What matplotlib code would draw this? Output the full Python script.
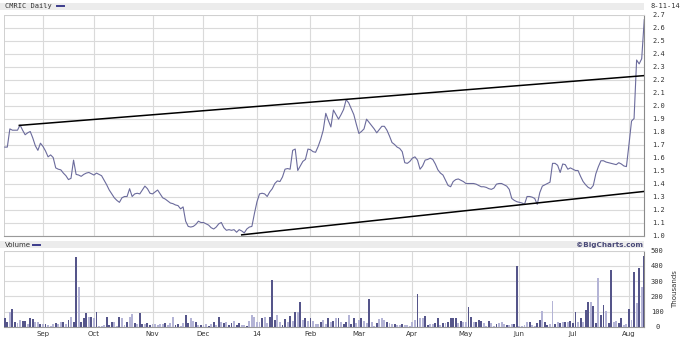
import numpy as np
import pandas as pd
import matplotlib
matplotlib.use("Agg")
import matplotlib.pyplot as plt
from matplotlib.patches import Rectangle

W, H = 680, 337

# ── data ──────────────────────────────────────────────────────────────────────
START, END = "2013-08-12", "2014-08-11"
HOLIDAYS = ["2013-09-02", "2013-11-28", "2013-12-25", "2014-01-01", "2014-01-20",
            "2014-02-17", "2014-04-18", "2014-05-26", "2014-07-04"]
MONTH_LABELS = ["Sep", "Oct", "Nov", "Dec", "14", "Feb", "Mar", "Apr",
                "May", "Jun", "Jul", "Aug"]

PRICE = [
    1.68, 1.68, 1.82, 1.81, 1.81, 1.81, 1.85, 1.81, 1.775, 1.79,
    1.80, 1.75, 1.69, 1.655, 1.71, 1.685, 1.65, 1.605, 1.62, 1.60,
    1.52, 1.51, 1.505, 1.48, 1.46, 1.43, 1.44, 1.58, 1.47, 1.465,
    1.455, 1.47, 1.48, 1.485, 1.475, 1.465, 1.48, 1.47, 1.46, 1.425,
    1.39, 1.35, 1.32, 1.29, 1.27, 1.255, 1.29, 1.30, 1.30, 1.36,
    1.30, 1.32, 1.325, 1.32, 1.35, 1.38, 1.36, 1.325, 1.32, 1.335,
    1.35, 1.32, 1.29, 1.28, 1.265, 1.25, 1.245, 1.235, 1.23, 1.205,
    1.22, 1.11, 1.07, 1.065, 1.07, 1.085, 1.11, 1.10, 1.10, 1.09,
    1.08, 1.06, 1.05, 1.065, 1.09, 1.10, 1.06, 1.04, 1.045, 1.04,
    1.045, 1.025, 1.045, 1.035, 1.02, 1.05, 1.065, 1.07, 1.17, 1.26,
    1.32, 1.325, 1.32, 1.30, 1.335, 1.36, 1.40, 1.42, 1.415, 1.45,
    1.51, 1.515, 1.51, 1.655, 1.665, 1.50, 1.535, 1.57, 1.585, 1.665,
    1.66, 1.645, 1.64, 1.685, 1.74, 1.81, 1.94, 1.885, 1.835, 1.965,
    1.93, 1.895, 1.93, 1.97, 2.045, 2.02, 1.975, 1.93, 1.855, 1.785,
    1.80, 1.82, 1.895, 1.87, 1.845, 1.82, 1.79, 1.815, 1.84, 1.84,
    1.81, 1.765, 1.715, 1.70, 1.68, 1.67, 1.645, 1.56, 1.555, 1.57,
    1.595, 1.605, 1.58, 1.51, 1.535, 1.58, 1.585, 1.595, 1.585, 1.55,
    1.505, 1.48, 1.465, 1.425, 1.385, 1.375, 1.415, 1.43, 1.435, 1.425,
    1.415, 1.40, 1.40, 1.40, 1.40, 1.395, 1.385, 1.375, 1.375, 1.37,
    1.36, 1.355, 1.365, 1.395, 1.40, 1.40, 1.39, 1.38, 1.355, 1.285,
    1.27, 1.26, 1.255, 1.25, 1.24, 1.30, 1.30, 1.295, 1.285, 1.24,
    1.33, 1.38, 1.39, 1.40, 1.41, 1.555, 1.555, 1.54, 1.485, 1.55,
    1.545, 1.51, 1.52, 1.51, 1.50, 1.50, 1.455, 1.415, 1.39, 1.37,
    1.36, 1.385, 1.475, 1.53, 1.575, 1.575, 1.565, 1.56, 1.555, 1.55,
    1.545, 1.56, 1.55, 1.535, 1.53, 1.70, 1.88, 1.90, 2.35, 2.32,
    2.36, 2.66,
]

# thousands of shares
VOLUME = [
    59, 28, 94, 116, 28, 22, 44, 37, 37, 20,
    55, 50, 33, 33, 15, 15, 15, 11, 7, 15,
    22, 15, 28, 28, 15, 44, 66, 33, 458, 263,
    33, 59, 88, 66, 66, 55, 94, 7, 7, 11,
    61, 11, 33, 28, 7, 63, 59, 11, 28, 66,
    81, 22, 15, 88, 15, 15, 22, 11, 15, 15,
    11, 15, 15, 22, 11, 22, 63, 11, 15, 7,
    22, 77, 22, 55, 37, 28, 11, 11, 11, 15,
    7, 15, 28, 11, 66, 28, 22, 33, 11, 22,
    37, 11, 22, 11, 11, 7, 37, 77, 66, 28,
    28, 59, 66, 22, 66, 307, 44, 77, 28, 11,
    50, 28, 70, 37, 99, 94, 164, 44, 59, 37,
    59, 37, 15, 15, 33, 44, 15, 59, 28, 37,
    55, 55, 33, 15, 28, 77, 15, 59, 22, 44,
    55, 37, 22, 182, 28, 7, 22, 50, 55, 42,
    28, 22, 15, 15, 11, 11, 15, 11, 11, 7,
    28, 44, 212, 59, 59, 70, 11, 15, 15, 22,
    59, 11, 22, 22, 28, 59, 59, 55, 22, 37,
    28, 28, 131, 66, 28, 33, 44, 37, 22, 7,
    37, 22, 7, 15, 22, 28, 15, 11, 11, 15,
    15, 401, 7, 7, 11, 28, 28, 11, 5, 22,
    44, 103, 28, 11, 15, 169, 15, 28, 22, 28,
    28, 28, 37, 22, 94, 28, 59, 28, 110, 164,
    164, 138, 22, 322, 77, 142, 103, 22, 372, 28,
    37, 22, 55, 11, 15, 114, 44, 361, 153, 383,
    263, 466,
]

# 1 = dark bar, 0 = light bar
UP_DAY = [
    1, 1, 0, 1, 1, 0, 0, 1, 1, 0,
    1, 1, 0, 0, 1, 0, 1, 0, 0, 0,
    1, 0, 0, 1, 0, 1, 0, 1, 1, 0,
    1, 1, 1, 0, 1, 0, 1, 0, 0, 0,
    1, 1, 1, 0, 0, 1, 0, 0, 1, 0,
    0, 1, 0, 1, 1, 0, 1, 1, 0, 0,
    0, 0, 0, 1, 0, 0, 0, 1, 1, 0,
    0, 1, 1, 0, 0, 1, 0, 1, 0, 0,
    1, 0, 1, 0, 1, 0, 1, 0, 1, 1,
    0, 1, 1, 0, 0, 1, 0, 0, 0, 0,
    0, 1, 0, 0, 1, 1, 1, 0, 0, 1,
    1, 0, 1, 0, 1, 0, 1, 0, 1, 0,
    1, 0, 0, 0, 1, 0, 0, 1, 0, 1,
    0, 1, 0, 1, 1, 0, 1, 1, 0, 0,
    1, 0, 0, 1, 0, 0, 1, 0, 0, 0,
    1, 0, 0, 1, 0, 0, 1, 0, 0, 0,
    0, 0, 1, 0, 0, 1, 1, 0, 0, 1,
    1, 0, 1, 0, 1, 1, 1, 1, 0, 1,
    0, 0, 1, 1, 0, 1, 1, 1, 0, 0,
    1, 0, 0, 1, 0, 0, 0, 1, 0, 0,
    1, 1, 0, 0, 0, 0, 1, 0, 0, 1,
    1, 0, 1, 1, 0, 0, 1, 0, 1, 0,
    1, 0, 1, 1, 1, 0, 1, 0, 1, 1,
    0, 1, 1, 0, 1, 1, 0, 1, 1, 0,
    0, 1, 1, 0, 0, 1, 0, 1, 0, 1,
    0, 1,
]

# trend lines: (trading-day index, price)
UPPER_TREND_DAYS = [5.7, 251]
UPPER_TREND_PRICES = [1.847, 2.23]
LOWER_TREND_DAYS = [93, 251]
LOWER_TREND_PRICES = [1.005, 1.339]

PRICE_TICKS = [1.0, 1.1, 1.2, 1.3, 1.4, 1.5, 1.6, 1.7, 1.8, 1.9,
               2.0, 2.1, 2.2, 2.3, 2.4, 2.5, 2.6, 2.7]
VOLUME_TICKS = [0, 100, 200, 300, 400, 500]

# ── styling ───────────────────────────────────────────────────────────────────
LINE_C = "#6b6b9c"
DARK_C = "#55558a"
LIGHT_C = "#b4b4d6"
GRID_C = "#dadada"
BAND_C = "#ececec"
TXT_C = "#333333"
MONO = "DejaVu Sans Mono"


def fx(px):
    return px / W


def fy(py):
    return 1 - py / H


def main():
    dates = pd.bdate_range(START, END)
    dates = dates[~dates.isin(pd.to_datetime(HOLIDAYS))]
    days = np.arange(len(dates))
    month_starts = days[1:][dates.month[1:] != dates.month[:-1]]

    fig = plt.figure(figsize=(W / 100, H / 100), dpi=100)

    # header bands
    for y0, y1 in [(3, 10), (241, 248.3)]:
        fig.add_artist(Rectangle((0, fy(y1)), fx(644), fy(y0) - fy(y1),
                                 transform=fig.transFigure, color=BAND_C, lw=0, zorder=0))

    ax = fig.add_axes([fx(4), fy(235.5), fx(640), fy(14.5) - fy(235.5)])
    axv = fig.add_axes([fx(4), fy(326.7), fx(640), fy(250.7) - fy(326.7)])

    xlim = (-0.3, 250.9)

    # ── price panel
    ax.plot(days, PRICE, color=LINE_C, lw=0.8, zorder=3)
    ax.plot(UPPER_TREND_DAYS, UPPER_TREND_PRICES, color="black", lw=1.1, zorder=4)
    ax.plot(LOWER_TREND_DAYS, LOWER_TREND_PRICES, color="black", lw=1.1, zorder=4)
    ax.set_xlim(*xlim)
    ax.set_ylim(1.0, 2.7)
    ax.set_yticks(PRICE_TICKS)
    ax.set_yticklabels([f"{t:.1f}" for t in PRICE_TICKS])
    ax.set_xticks(month_starts)
    ax.set_xticklabels([])

    # ── volume panel
    colors = [DARK_C if u else LIGHT_C for u in UP_DAY]
    axv.bar(days, VOLUME, width=0.75, color=colors, lw=0, zorder=3)
    axv.set_xlim(*xlim)
    axv.set_ylim(0, 500)
    axv.set_yticks(VOLUME_TICKS)
    axv.set_yticklabels([str(t) for t in VOLUME_TICKS])
    axv.set_xticks(month_starts)
    axv.set_xticklabels(MONTH_LABELS)

    for a in (ax, axv):
        a.yaxis.tick_right()
        a.grid(True, color=GRID_C, lw=0.8, zorder=0)
        a.set_axisbelow(True)
        a.tick_params(length=0, labelsize=5, colors=TXT_C)
        for lab in a.get_yticklabels():
            lab.set_family(MONO)
        for s in ("left", "top"):
            a.spines[s].set_color("#d0d0d0")
            a.spines[s].set_linewidth(0.7)
        a.spines["right"].set_color("#8a8a8a")
        a.spines["bottom"].set_color("#9a9a9a")
        a.spines["right"].set_linewidth(0.8)
        a.spines["bottom"].set_linewidth(0.8)

    ax.tick_params(axis="y", pad=6)
    axv.tick_params(axis="y", pad=9.5)
    for lab in axv.get_yticklabels():
        lab.set_horizontalalignment("center")
    axv.tick_params(axis="x", pad=2.8)

    # ── header texts
    fig.text(fx(5), fy(6.3), "CMRIC Daily", family=MONO, fontsize=5,
             color=TXT_C, va="center", ha="left")
    fig.add_artist(plt.Line2D([fx(56.5), fx(63.5)], [fy(6.3), fy(6.3)],
                              color="#3c3c8c", lw=1.4, transform=fig.transFigure))
    fig.text(fx(680), fy(6.3), "8-11-14", family=MONO, fontsize=5,
             color=TXT_C, va="center", ha="right")

    fig.text(fx(5), fy(244.8), "Volume", fontsize=5, color=TXT_C,
             va="center", ha="left")
    fig.add_artist(plt.Line2D([fx(32.5), fx(39.5)], [fy(244.8), fy(244.8)],
                              color="#3c3c8c", lw=1.4, transform=fig.transFigure))
    fig.text(fx(643), fy(244.8), "\u00a9BigCharts.com", fontsize=5.2,
             fontweight="bold", color="#4a4a78", va="center", ha="right")
    fig.text(fx(675.5), fy(289), "Thousands", fontsize=5, color=TXT_C,
             rotation=90, va="center", ha="center")

    fig.savefig("out.png", dpi=100)
    plt.close(fig)


if __name__ == "__main__":
    main()
